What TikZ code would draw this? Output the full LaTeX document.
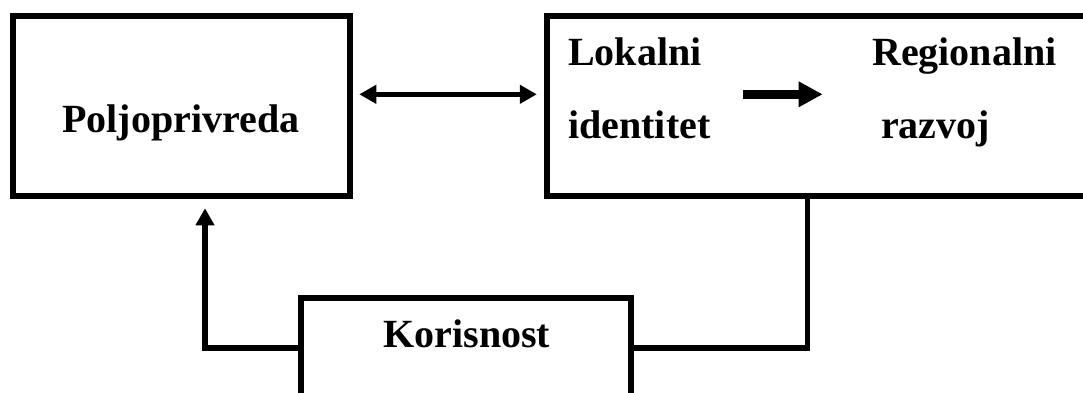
\documentclass[tikz,border=0pt]{standalone}
\usepackage{fontspec}
\setmainfont{Liberation Serif}
\usetikzlibrary{arrows.meta}
\tikzset{
  boxed/.style={draw=black, line width=6pt, rectangle, inner sep=0pt, fill=white},
  lbl/.style={inner sep=0pt, font=\fontsize{40}{48}\selectfont\bfseries, text=black},
  conn/.style={draw=black, line width=5.5pt},
  dblarrow/.style={draw=black, line width=4.5pt, {Triangle[length=17pt,width=18pt]}-{Triangle[length=17pt,width=18pt]}},
  bigarrow/.style={draw=black, line width=9pt, -{Triangle[length=24pt,width=24pt]}},
  uparrow/.style={conn, -{Triangle[length=17pt,width=18pt]}}
}
\begin{document}
\begin{tikzpicture}[x=1pt,y=-1pt]
\useasboundingbox (0,0) rectangle (1083,392);
\fill[white] (0,0) rectangle (1083,392);
\clip (0,0) rectangle (1083,392);
% boxes
\node[boxed, minimum width=336.5pt, minimum height=180pt] (left) at (181.25,106) {};
\node[boxed, minimum width=552.7pt, minimum height=180pt] (right) at (823.65,106) {};
\node[boxed, minimum width=329.7pt, minimum height=132pt] (kor) at (466.15,364) {};
% texts
\node[lbl, anchor=base] (poljo) at (180.85,132.7) {Poljoprivreda};
\node[lbl, anchor=base west] (lok) at (568,65) {Lokalni};
\node[lbl, anchor=base west] (ide) at (568,138.3) {identitet};
\node[lbl, anchor=base west] (reg) at (872,65) {Regionalni};
\node[lbl, anchor=base west] (raz) at (881,138.3) {razvoj};
\node[lbl, anchor=base] (kortxt) at (466.8,347.7) {Korisnost};
% coordinates
\coordinate (ia) at (743.3,94.3);
\coordinate (ib) at (822.7,94.3);
\coordinate (uptip) at (205,208.3);
\coordinate (rb) at (807.5,196);
\path (left.east |- ia) ++(6.8pt,0) coordinate (da);
\path (right.west |- ia) ++(-7.5pt,0) coordinate (db);
% connectors
\draw[dblarrow] (da) -- (db);
\draw[bigarrow] (ia) -- (ib);
\draw[uparrow] (kor.west |- 0,348) -| (uptip);
\draw[conn] (kor.east |- 0,348) -| (rb);
\end{tikzpicture}
\end{document}
